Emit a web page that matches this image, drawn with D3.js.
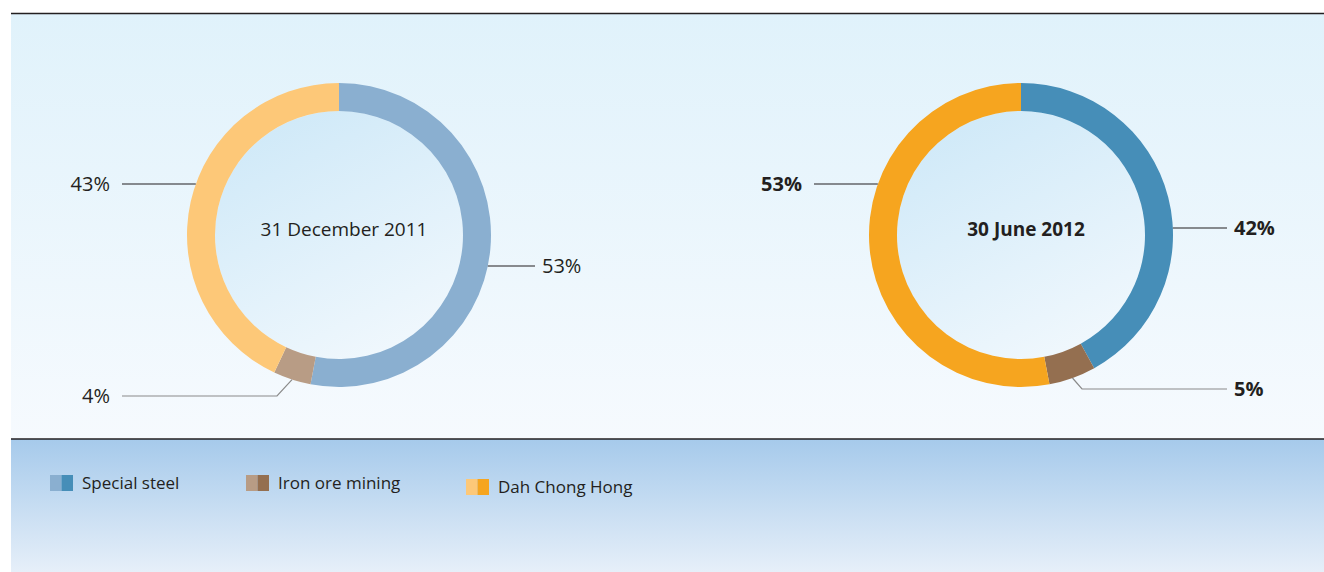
<!DOCTYPE html>
<html lang="en">
  <head>
    <meta charset="utf-8">
    <script src="https://cdn.jsdelivr.net/npm/d3@7"></script>
    <style>
      body { margin: 0; background: #fff; }
      text { font-family: "Open Sans", "Noto Sans", sans-serif; fill: #231f20; }
    </style>
  </head>
  <body>
    <svg id="chart"></svg>
  </body>
  <script>
    // data
    var categories = ["Special steel", "Iron ore mining", "Dah Chong Hong"];
    var periods = ["31 December 2011", "30 June 2012"];
    var share2011 = [53, 4, 43];
    var share2012 = [42, 5, 53];
    var lightColors = ["#8aafd0", "#b89c85", "#fdc878"];
    var darkColors = ["#468eb8", "#946f50", "#f6a51f"];

    var width = 1324, height = 572;
    var svg = d3.select("#chart").attr("width", width).attr("height", height);
    var defs = svg.append("defs");

    function linGrad(id, x1, y1, x2, y2, stops) {
      var g = defs.append("linearGradient").attr("id", id)
        .attr("x1", x1).attr("y1", y1).attr("x2", x2).attr("y2", y2);
      stops.forEach(function(s) {
        g.append("stop").attr("offset", s[0]).attr("stop-color", s[1]);
      });
    }
    linGrad("panelBg", 0, 0, 0, 1, [[0, "#e0f2fb"], [1, "#f6fafe"]]);
    linGrad("legendBg", 0, 0, 0, 1, [[0, "#a6caeb"], [1, "#e6eff9"]]);
    linGrad("innerBg", 0.25, 0, 0.75, 1, [[0, "#cfe9f8"], [1, "#f1f8fd"]]);

    // panels
    svg.append("rect").attr("x", 11).attr("y", 13).attr("width", width - 11).attr("height", 426)
      .attr("fill", "url(#panelBg)");
    svg.append("rect").attr("x", 11).attr("y", 439).attr("width", width - 11).attr("height", 133)
      .attr("fill", "url(#legendBg)");
    svg.append("line").attr("x1", 11).attr("x2", width).attr("y1", 13.5).attr("y2", 13.5)
      .attr("stroke", "#231f20").attr("stroke-width", 1.5);
    svg.append("line").attr("x1", 11).attr("x2", width).attr("y1", 439).attr("y2", 439)
      .attr("stroke", "#231f20").attr("stroke-width", 1.5);

    var outerR = 152, innerR = 124;
    var pie = d3.pie().sort(null).value(function(d) { return d; });
    var arc = d3.arc().innerRadius(innerR).outerRadius(outerR);

    // leader layout per donut: y offsets of horizontal labels, x ends, elbow of small slice
    var charts = [
      { cx: 339, cy: 235, data: share2011, colors: lightColors, bold: false,
        leftEnd: 122, rightEnd: 535, dy: [31, null, -51], elbowDy: 161, elbowX: 277 },
      { cx: 1021, cy: 235, data: share2012, colors: darkColors, bold: true,
        leftEnd: 814, rightEnd: 1227, dy: [-7, null, -51], elbowDy: 154, elbowX: 1082 }
    ];

    charts.forEach(function(c, ci) {
      var g = svg.append("g").attr("transform", "translate(" + c.cx + "," + c.cy + ")");
      g.append("circle").attr("r", innerR).attr("fill", "url(#innerBg)");
      var arcs = pie(c.data);
      g.selectAll("path.slice").data(arcs).enter().append("path")
        .attr("class", "slice")
        .attr("d", arc)
        .attr("fill", function(d, i) { return c.colors[i]; });

      g.append("text").attr("text-anchor", "middle").attr("x", 5).attr("y", 1)
        .style("font-size", "19px").style("font-weight", c.bold ? 700 : 400)
        .text(periods[ci]);

      arcs.forEach(function(a, i) {
        var mid = (a.startAngle + a.endAngle) / 2;
        var side = Math.sin(mid) < 0 ? -1 : 1;
        var endX = side < 0 ? c.leftEnd - c.cx : c.rightEnd - c.cx;
        var pts, ly, stroke = "#231f20";
        if (c.dy[i] !== null) {
          ly = c.dy[i];
          var sx = side * Math.sqrt(outerR * outerR - ly * ly);
          pts = [[sx, ly], [endX, ly]];
        } else {
          ly = c.elbowDy;
          pts = [[outerR * Math.sin(mid), -outerR * Math.cos(mid)], [c.elbowX - c.cx, ly], [endX, ly]];
          stroke = "#8a8a8a";
        }
        g.append("path").attr("d", d3.line()(pts))
          .attr("fill", "none").attr("stroke", stroke).attr("stroke-width", 1.2);
        g.append("text")
          .attr("x", endX + (side < 0 ? -12 : 7))
          .attr("y", ly + 7)
          .attr("text-anchor", side < 0 ? "end" : "start")
          .style("font-size", "20px").style("font-weight", c.bold ? 700 : 400)
          .text(c.data[i] + "%");
      });
    });

    // legend
    var legendX = [50, 246, 466];
    var legend = svg.selectAll("g.legend").data(categories).enter().append("g")
      .attr("class", "legend")
      .attr("transform", function(d, i) { return "translate(" + legendX[i] + "," + (i === 2 ? 479 : 475) + ")"; });
    legend.append("rect").attr("width", 11.5).attr("height", 16)
      .attr("fill", function(d, i) { return lightColors[i]; });
    legend.append("rect").attr("x", 11.5).attr("width", 11.5).attr("height", 16)
      .attr("fill", function(d, i) { return darkColors[i]; });
    legend.append("text").attr("x", 32).attr("y", 14)
      .style("font-size", "17px")
      .text(function(d) { return d; });
  </script>
</html>
